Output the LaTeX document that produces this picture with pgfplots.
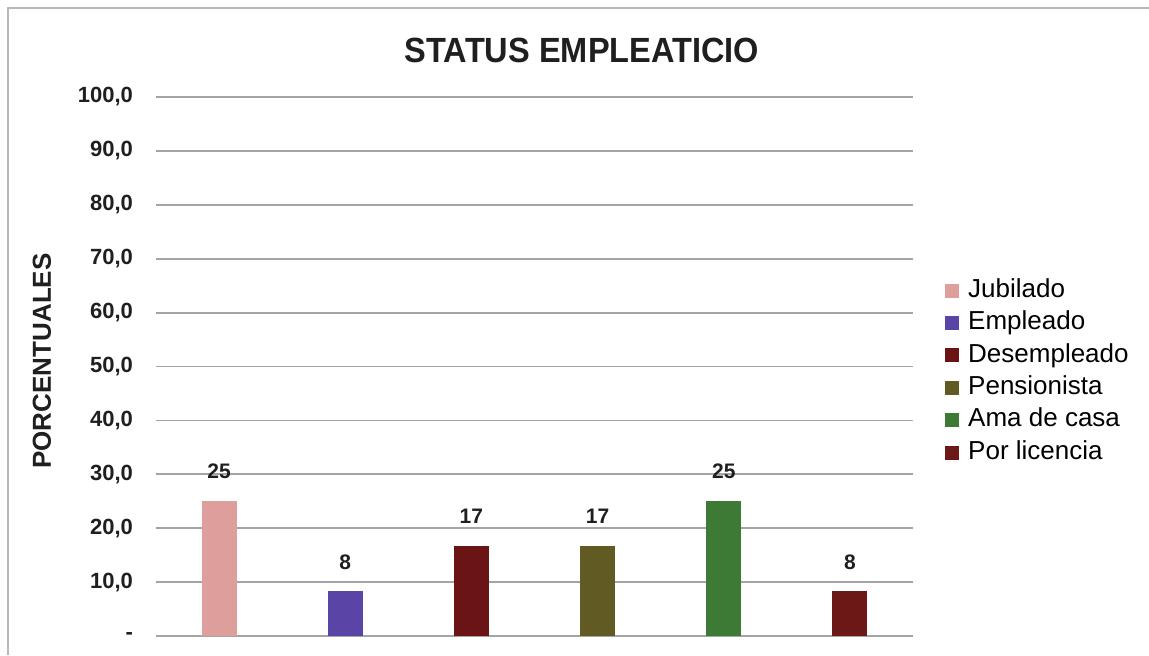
\documentclass[border=0pt]{standalone}
\usepackage{fontspec}
\setmainfont{Liberation Sans}
\newfontfamily\titlefont[FakeStretch=0.93]{Liberation Sans}
\usepackage{pgfplots}
\pgfplotsset{compat=1.18}
\definecolor{cJub}{HTML}{DE9E9C}
\definecolor{cEmp}{HTML}{5A44A6}
\definecolor{cDes}{HTML}{6A1416}
\definecolor{cPen}{HTML}{625A23}
\definecolor{cAma}{HTML}{3C7A36}
\definecolor{cLic}{HTML}{6C1816}
\definecolor{cGrid}{HTML}{A4A4A4}
\begin{document}
\begin{tikzpicture}
\useasboundingbox (0pt,0pt) rectangle (574.5pt,327.5pt);
\draw[line width=1pt, color=black!28] (4pt,0pt) -- (4pt,323.5pt) -- (574.5pt,323.5pt);
\node[font=\titlefont\bfseries\fontsize{17.5}{19}\selectfont, color=black!88] at (291pt,302.5pt) {STATUS EMPLEATICIO};
\node[font=\bfseries\fontsize{13}{15}\selectfont, rotate=90, color=black!88] at (21pt,147pt) {PORCENTUALES};
\begin{axis}[
  at={(78pt,9.5pt)}, anchor=south west,
  scale only axis, width=378.5pt, height=269.5pt,
  xmin=-0.5, xmax=5.5, ymin=0, ymax=100,
  axis line style={draw=none},
  tick style={draw=none},
  xtick=\empty,
  ytick={0,10,...,100},
  yticklabels={-,{10,0},{20,0},{30,0},{40,0},{50,0},{60,0},{70,0},{80,0},{90,0},{100,0}},
  yticklabel style={font=\bfseries\fontsize{11}{13}\selectfont, color=black!88, xshift=-8pt},
  ymajorgrids,
  grid style={line width=0.9pt, color=cGrid},
  clip=false,
  ybar, bar width=17.5pt, bar shift=0pt,
  every axis plot/.append style={draw=none},
  nodes near coords={\pgfmathprintnumber[fixed,precision=0,assume math mode=true]{\pgfplotspointmeta}},
  nodes near coords style={font=\bfseries\fontsize{10.5}{12}\selectfont, color=black!88, yshift=7.5pt},
  legend style={at={(1.042,0.668)}, anchor=north west, draw=none, fill=none, inner sep=0pt,
    font=\fontsize{13}{15}\selectfont, row sep=2pt,
    nodes={inner sep=1pt, text height=9.5pt, text depth=2.7pt},
    /tikz/every odd column/.append style={column sep=3.5pt}},
  legend cell align=left,
  legend image code/.code={\fill[#1] (0pt,-3.5pt) rectangle (7pt,3.5pt);},
]
\addplot[fill=cJub] coordinates {(0,25)};
\addplot[fill=cEmp] coordinates {(1,8.3)};
\addplot[fill=cDes] coordinates {(2,16.7)};
\addplot[fill=cPen] coordinates {(3,16.7)};
\addplot[fill=cAma] coordinates {(4,25)};
\addplot[fill=cLic] coordinates {(5,8.3)};
\legend{Jubilado,Empleado,Desempleado,Pensionista,Ama de casa,Por licencia}
\end{axis}
\end{tikzpicture}
\end{document}
